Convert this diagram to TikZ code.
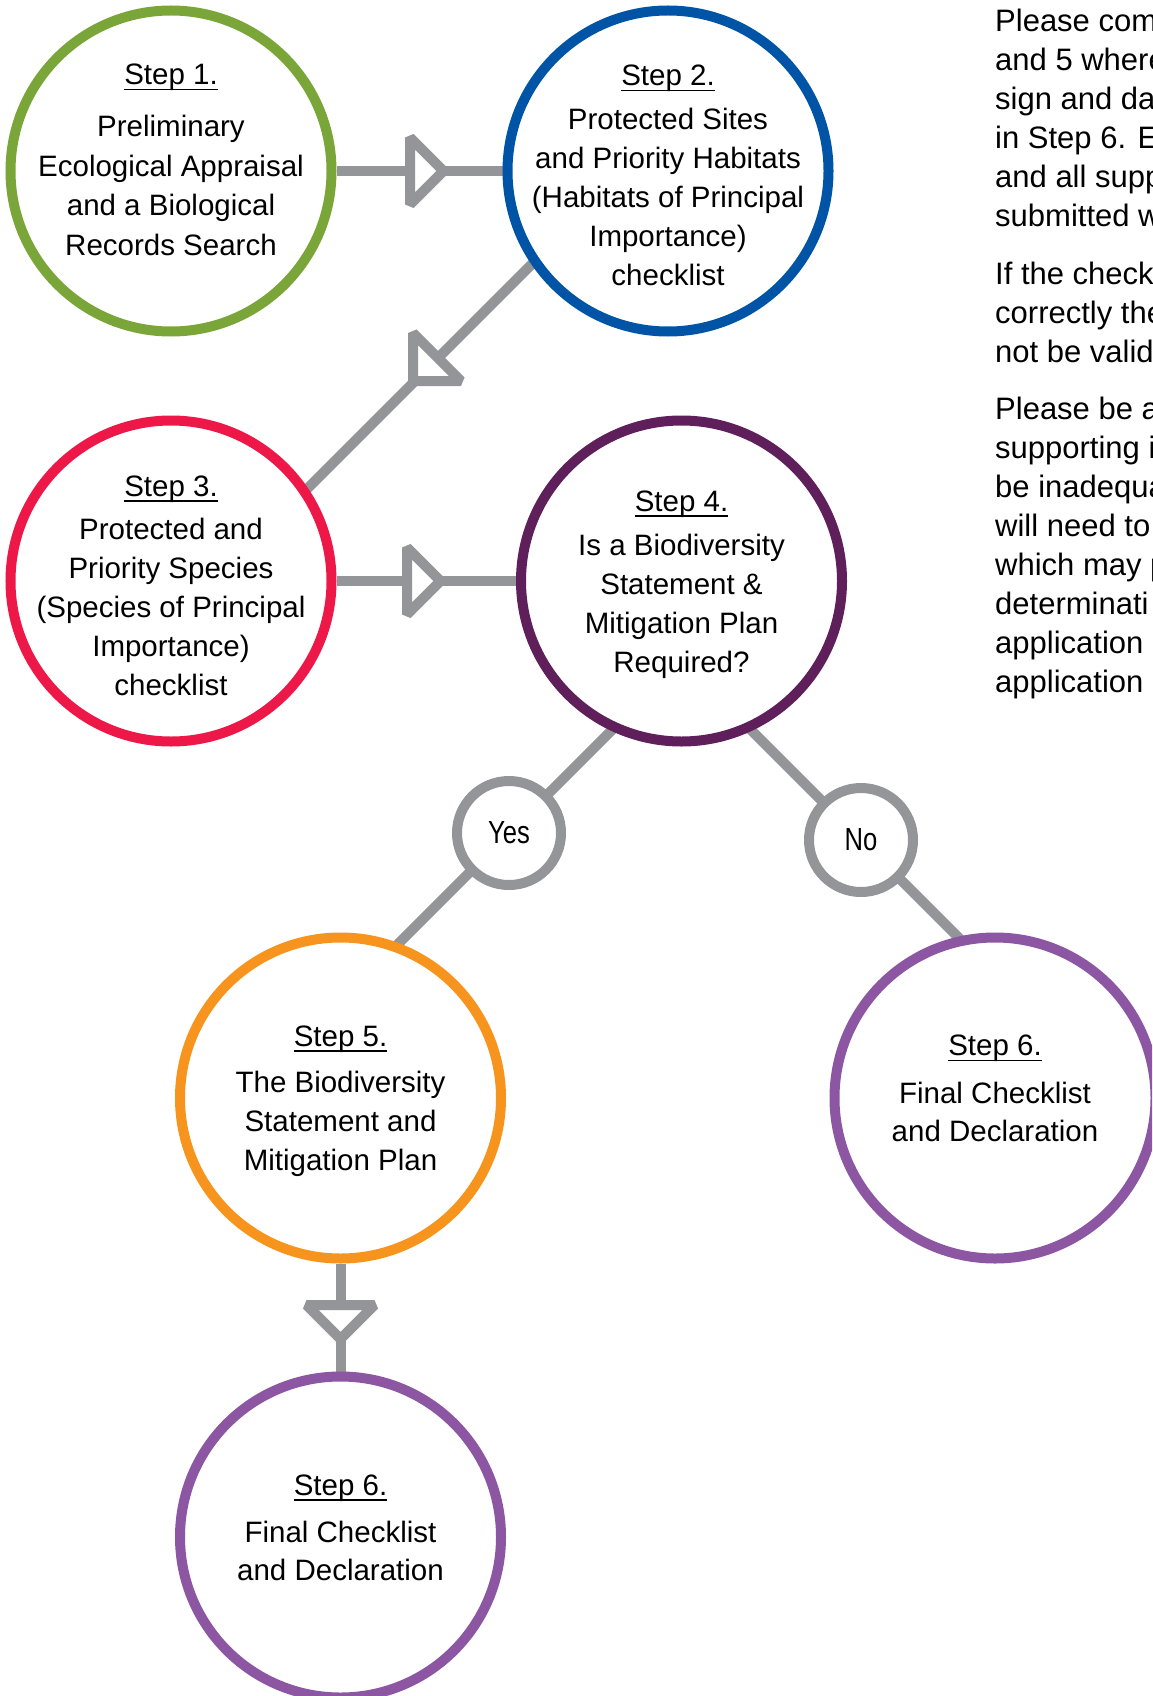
\documentclass[tikz,border=0pt]{standalone}
\usepackage{fontspec}
\setmainfont{Liberation Sans}
\newfontfamily\narrowfont[FakeStretch=0.8]{Liberation Sans}
\usetikzlibrary{calc}
\pgfdeclarelayer{background}
\pgfsetlayers{background,main}
\definecolor{cgreen}{RGB}{122,165,57}
\definecolor{cblue}{RGB}{0,84,166}
\definecolor{cred}{RGB}{237,24,72}
\definecolor{cdpurple}{RGB}{94,31,91}
\definecolor{corange}{RGB}{247,148,29}
\definecolor{cpurple}{RGB}{140,86,163}
\definecolor{cgray}{RGB}{147,149,152}
\newcommand\stepul[1]{\setbox0=\hbox{#1}\rlap{\rule[-5.5pt]{\wd0}{1.5pt}}\box0}
\newcommand\ctext[4]{\node[txt] (#1t#2) at ($(#1)+(0,#3)$) {#4};}
\newcommand\rtext[3]{\node[rtxt] (r#1) at (995,#2) {#3};}
\begin{document}
\begin{tikzpicture}[x=1pt,y=-1pt,
  bigc/.style={circle, draw, line width=10pt, minimum size=321pt, inner sep=0pt, fill=white},
  smallc/.style={circle, draw=cgray, line width=10pt, minimum size=104pt, inner sep=0pt, fill=white, font=\narrowfont\fontsize{32}{36}\selectfont},
  txt/.style={anchor=base, inner sep=0pt, font=\fontsize{29.5}{36}\selectfont},
  rtxt/.style={anchor=base west, inner sep=0pt, font=\fontsize{31}{38}\selectfont},
  conn/.style={draw=cgray, line width=10pt},
  arrowtri/.style={draw=cgray, fill=white, line width=10pt, line join=bevel}
]
\useasboundingbox (0,0) rectangle (1152,1696);
\clip (0,0) rectangle (1152,1696);

% circles
\node[bigc, draw=cgreen] (s1) at (171,171) {};
\node[bigc, draw=cblue] (s2) at (668,171) {};
\node[bigc, draw=cred] (s3) at (171,581) {};
\node[bigc, draw=cdpurple] (s4) at (681.5,581) {};
\node[bigc, draw=corange] (s5) at (340.5,1098) {};
\node[bigc, draw=cpurple] (s6a) at (995,1098) {};
\node[bigc, draw=cpurple] (s6b) at (340.5,1537) {};
\node[smallc] (yes) at (509,833) {Yes};
\node[smallc] (no) at (861,840) {No};

% connectors
\begin{pgfonlayer}{background}
\draw[conn] (s1) -- (s2);
\draw[conn] (s3) -- (s4);
\draw[conn] (s5) -- (s6b);
\draw[conn] ($(s2)+(-108,65)$) -- ($(s3)+(89,-45)$);
\draw[conn] (yes.center) -- ($(yes.center)+(150,-150)$);
\draw[conn] (yes.center) -- ($(yes.center)+(-140,140)$);
\draw[conn] (no.center) -- ($(no.center)+(-150,-150)$);
\draw[conn] (no.center) -- ($(no.center)+(150,150)$);
\end{pgfonlayer}

% open arrowheads
\draw[arrowtri] (410,137.5) -- (443.5,171) -- (410,204.5) -- cycle;
\draw[arrowtri] (407,547.5) -- (440.5,581) -- (407,614.5) -- cycle;
\draw[arrowtri] (306.5,1305) -- (340.5,1339) -- (374.5,1305) -- cycle;
\draw[arrowtri] (413,333) -- (461,381) -- (413,381) -- cycle;

% circle texts
\ctext{s1}{0}{-86}{\stepul{Step 1.}}
\ctext{s1}{1}{-34}{Preliminary}
\ctext{s1}{2}{6}{Ecological Appraisal}
\ctext{s1}{3}{45}{and a Biological}
\ctext{s1}{4}{84}{Records Search}

\ctext{s2}{0}{-85}{\stepul{Step 2.}}
\ctext{s2}{1}{-41.5}{Protected Sites}
\ctext{s2}{2}{-2.5}{and Priority Habitats}
\ctext{s2}{3}{36.5}{(Habitats of Principal}
\ctext{s2}{4}{75.5}{Importance)}
\ctext{s2}{5}{114.5}{checklist}

\ctext{s3}{0}{-85}{\stepul{Step 3.}}
\ctext{s3}{1}{-41.5}{Protected and}
\ctext{s3}{2}{-2.5}{Priority Species}
\ctext{s3}{3}{36.5}{(Species of Principal}
\ctext{s3}{4}{75.5}{Importance)}
\ctext{s3}{5}{114.5}{checklist}

\ctext{s4}{0}{-70}{\stepul{Step 4.}}
\ctext{s4}{1}{-25.5}{Is a Biodiversity}
\ctext{s4}{2}{13.5}{Statement \&}
\ctext{s4}{3}{52.5}{Mitigation Plan}
\ctext{s4}{4}{91.5}{Required?}

\ctext{s5}{0}{-52}{\stepul{Step 5.}}
\ctext{s5}{1}{-6}{The Biodiversity}
\ctext{s5}{2}{33}{Statement and}
\ctext{s5}{3}{72}{Mitigation Plan}

\ctext{s6a}{0}{-42.5}{\stepul{Step 6.}}
\ctext{s6a}{1}{5}{Final Checklist}
\ctext{s6a}{2}{43.5}{and Declaration}

\ctext{s6b}{0}{-42}{\stepul{Step 6.}}
\ctext{s6b}{1}{5}{Final Checklist}
\ctext{s6b}{2}{43.5}{and Declaration}

% right-hand text (cut off by the page edge, as in the reference)
\rtext{1}{32}{Please com}
\rtext{2}{71}{and 5 where}
\rtext{3}{110}{sign and da}
\rtext{4}{149}{in Step 6. En}
\rtext{5}{188}{and all supp}
\rtext{6}{227}{submitted w}
\rtext{7}{284}{If the check}
\rtext{8}{323}{correctly the}
\rtext{9}{362}{not be valid}
\rtext{10}{419}{Please be a}
\rtext{11}{458}{supporting i}
\rtext{12}{497}{be inadequa}
\rtext{13}{536}{will need to}
\rtext{14}{575}{which may p}
\rtext{15}{614}{determinati}
\rtext{16}{653}{application}
\rtext{17}{692}{application}
\end{tikzpicture}
\end{document}
